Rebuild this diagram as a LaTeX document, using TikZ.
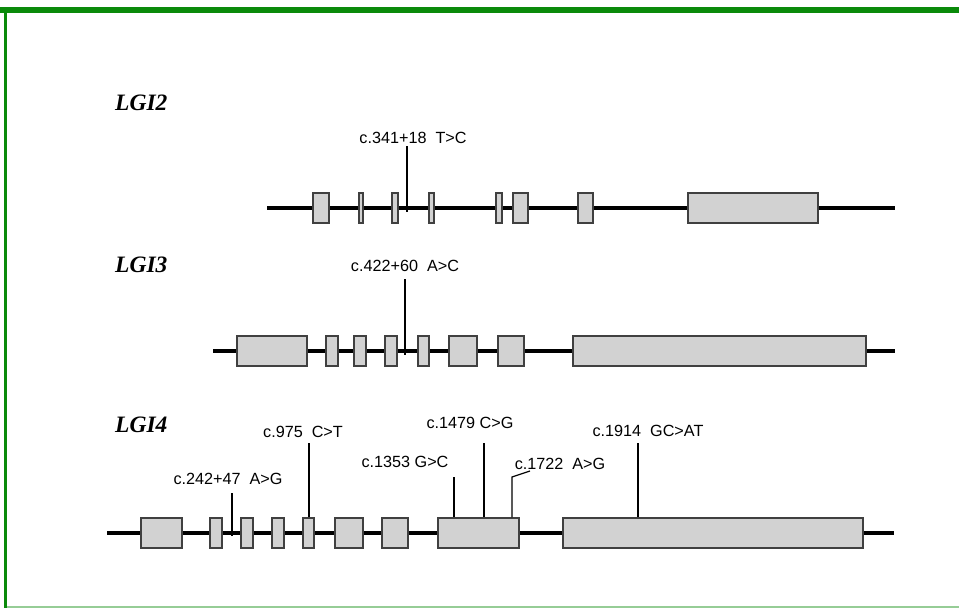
\documentclass[tikz,border=0pt]{standalone}
\usepackage{fontspec}
\setmainfont{Liberation Sans}
\newfontfamily\genefont{Liberation Serif}
\usepackage{tikz}
\usetikzlibrary{positioning,calc}

\definecolor{framegreen}{RGB}{10,138,10}
\definecolor{framelight}{RGB}{150,205,150}

\begin{document}
\begin{tikzpicture}[
  x=1pt, y=-1pt,
  gene/.style={font=\genefont\bfseries\itshape\fontsize{23.5}{24}\selectfont, inner sep=0pt},
  exon/.style={draw=black!75, line width=1.2pt, fill=gray!35, minimum height=30pt, inner sep=0pt},
  backbone/.style={line width=3.5pt},
  mut/.style={font=\fontsize{16.2}{17}\selectfont, inner sep=1pt},
  tick/.style={line width=1.2pt},
]
\useasboundingbox (0,0) rectangle (959,608);

% frame
\fill[framegreen] (0,7) rectangle (959,13);
\fill[framegreen] (4,7) rectangle (7,608);
\fill[framelight] (7,606) rectangle (959,608);

% LGI2
\node[gene, anchor=west] (lgi2) at (115,103) {LGI2};
\coordinate (two-a) at (267,208);
\coordinate (two-b) at (895,208);
\draw[backbone] (two-a) -- (two-b);
\foreach \a/\b [count=\i] in {313/329, 359/363, 392/398, 429/434, 496/502, 513/528, 578/593, 688/818} {
  \pgfmathsetmacro\w{\b-\a}
  \node[exon, minimum width=\w pt] (two-\i) at ({(\a+\b)/2},208) {};
}
\node[mut] (m341) at (413,138) {c.341+18\ \ T>C};
\coordinate (m341-a) at (407,146);
\coordinate (m341-b) at (407,212);
\draw[tick] (m341-a) -- (m341-b);

% LGI3
\node[gene, anchor=west] (lgi3) at (115,265) {LGI3};
\coordinate (three-a) at (213,351);
\coordinate (three-b) at (895,351);
\draw[backbone] (three-a) -- (three-b);
\foreach \a/\b [count=\i] in {237/307, 326/338, 354/366, 385/397, 418/429, 449/477, 498/524, 573/866} {
  \pgfmathsetmacro\w{\b-\a}
  \node[exon, minimum width=\w pt] (three-\i) at ({(\a+\b)/2},351) {};
}
\node[mut] (m422) at (405,266) {c.422+60\ \ A>C};
\coordinate (m422-a) at (405,279);
\coordinate (m422-b) at (405,355);
\draw[tick] (m422-a) -- (m422-b);

% LGI4
\node[gene, anchor=west] (lgi4) at (115,425) {LGI4};
\coordinate (four-a) at (107,533);
\coordinate (four-b) at (894,533);
\draw[backbone] (four-a) -- (four-b);
\foreach \a/\b [count=\i] in {141/182, 210/222, 241/253, 272/284, 303/314, 335/363, 382/408, 438/519, 563/863} {
  \pgfmathsetmacro\w{\b-\a}
  \node[exon, minimum width=\w pt] (four-\i) at ({(\a+\b)/2},533) {};
}
\node[mut] (m242) at (228,479) {c.242+47\ \ A>G};
\coordinate (m242-a) at (232,493);
\coordinate (m242-b) at (232,536);
\draw[tick] (m242-a) -- (m242-b);

\node[mut] (m975) at (303,432) {c.975\ \ C>T};
\node[mut] (m1353) at (405,462) {c.1353 G>C};
\node[mut] (m1479) at (470,423) {c.1479 C>G};
\node[mut] (m1722) at (560,464) {c.1722\ \ A>G};
\node[mut] (m1914) at (648,431) {c.1914\ \ GC>AT};

\coordinate (m975-a) at (309,443);
\coordinate (m1353-a) at (454,477);
\coordinate (m1479-a) at (484,443);
\coordinate (m1722-a) at (530,471);
\coordinate (m1722-k) at (512,477);
\coordinate (m1914-a) at (638,443);

\draw[tick] (m975-a) -- (m975-a |- four-5.north);
\draw[tick] (m1353-a) -- (m1353-a |- four-8.north);
\draw[tick] (m1479-a) -- (m1479-a |- four-8.north);
\draw[tick] (m1722-a) -- (m1722-k) -- (m1722-k |- four-8.north);
\draw[tick] (m1914-a) -- (m1914-a |- four-9.north);
\end{tikzpicture}
\end{document}
